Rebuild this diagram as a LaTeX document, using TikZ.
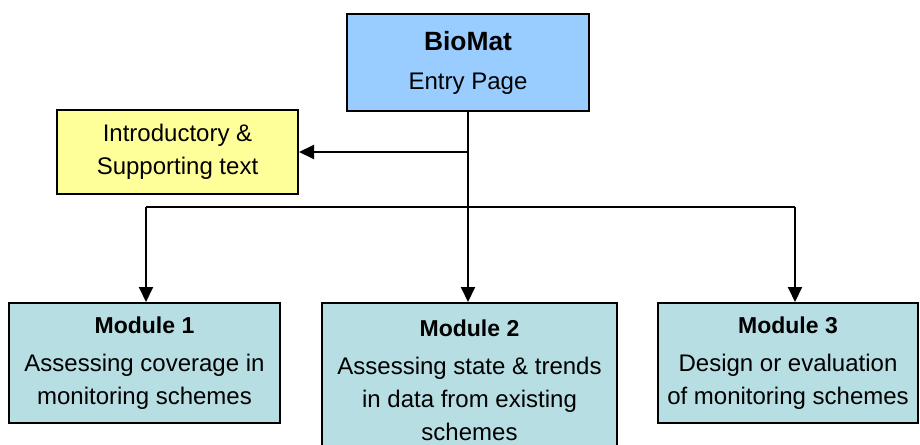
\documentclass[tikz,border=0pt]{standalone}
\usepackage{fontspec}
\setmainfont{Liberation Sans}
\usetikzlibrary{arrows.meta, positioning}

\definecolor{entryblue}{HTML}{99CCFF}
\definecolor{introyellow}{HTML}{FFFF99}
\definecolor{modteal}{HTML}{B7DEE3}

\begin{document}
\begin{tikzpicture}[
        x=0.5pt, y=-0.5pt,
        every node/.style={font=\fontsize{12}{16.5}\selectfont},
        box/.style={
            rectangle, draw=black, line width=1pt,
            align=center, inner sep=0pt
        },
        entrybox/.style={box, fill=entryblue, minimum width=121pt, minimum height=48.5pt},
        introbox/.style={box, fill=introyellow, minimum width=120.5pt, minimum height=42pt},
        modbox/.style={box, fill=modteal, minimum height=60pt},
        arr/.style={-{Triangle[length=7.5pt, width=7pt]}, line width=1pt, draw=black}
        ]

    \clip (0,0) rectangle (920,444);

    % --- entry page ---
        \node[entrybox] (entry) at (468,62.5)
            {{\fontsize{13.2}{16.5}\selectfont\bfseries BioMat}\\[3pt]Entry Page};

    % --- introductory text ---
        \node[introbox] (intro) at (177.5,152)
            {Introductory \&\\Supporting text};

    % --- modules ---
        \node[modbox, minimum width=135.5pt] (mod1) at (144.5,363)
            {{\fontsize{11.5}{16.5}\selectfont\bfseries Module 1}\\[2.5pt]Assessing coverage in\\monitoring schemes};
        \node[modbox, minimum width=147.5pt, minimum height=77pt] (mod2) at (469.5,380)
            {{\fontsize{11.5}{16.5}\selectfont\bfseries Module 2}\\[2.5pt]Assessing state \& trends\\in data from existing\\schemes};
        \node[modbox, minimum width=130pt] (mod3) at (788,363)
            {{\fontsize{11.5}{16.5}\selectfont\bfseries Module 3}\\[2.5pt]Design or evaluation\\of monitoring schemes};

    % --- connectors ---
        \coordinate (split) at (468,207);
        \coordinate (split1) at (146,207);
        \coordinate (split3) at (795,207);

        \draw[arr] (entry.south -| split) -- (split |- mod2.north);
        \draw[arr] (split |- intro.east) -- (intro.east);
        \draw[line width=1pt] (split1) -- (split3);
        \draw[arr] (split1) -- (split1 |- mod1.north);
        \draw[arr] (split3) -- (split3 |- mod3.north);

    \end{tikzpicture}
\end{document}
